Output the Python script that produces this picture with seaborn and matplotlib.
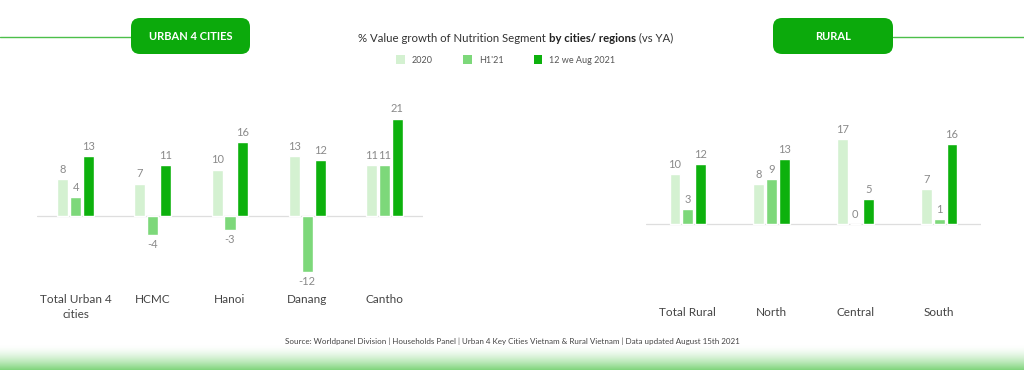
import numpy as np
import pandas as pd
import matplotlib
matplotlib.use("Agg")
import matplotlib.pyplot as plt
import seaborn as sns
from matplotlib.patches import FancyBboxPatch, Patch
from matplotlib.lines import Line2D
from matplotlib.transforms import IdentityTransform

# data
periods = ["2020", "H1'21", "12 we Aug 2021"]
urban_cities = ["Total Urban 4\ncities", "HCMC", "Hanoi", "Danang", "Cantho"]
urban_2020 = [8, 7, 10, 13, 11]
urban_h121 = [4, -4, -3, -12, 11]
urban_12we = [13, 11, 16, 12, 21]
rural_regions = ["Total Rural", "North", "Central", "South"]
rural_2020 = [10, 8, 17, 7]
rural_h121 = [3, 9, 0, 1]
rural_12we = [12, 13, 5, 16]

colors = ["#d4f1d1", "#7dd87a", "#0db10d"]
box_green = "#0caa0c"
grey = "#8a8a8a"


def long_df(cats, a, b, c):
    rows = []
    for vals, p in zip([a, b, c], periods):
        for cat, v in zip(cats, vals):
            rows.append({"cat": cat, "period": p, "value": v})
    return pd.DataFrame(rows)


urban_df = long_df(urban_cities, urban_2020, urban_h121, urban_12we)
rural_df = long_df(rural_regions, rural_2020, rural_h121, rural_12we)

sns.set_style("white")
plt.rcParams["font.family"] = ["Lato", "DejaVu Sans"]

W, H = 1024, 370
fig = plt.figure(figsize=(W / 100, H / 100), dpi=100)


def px_axes(x0, x1, top, bottom):
    return fig.add_axes([x0 / W, 1 - bottom / H, (x1 - x0) / W, (bottom - top) / H])


def draw_panel(ax, df, cats, ylim, width, gap):
    sns.barplot(data=df, x="cat", y="value", hue="period", order=cats,
                hue_order=periods, palette=colors, width=width, gap=gap,
                saturation=1, legend=False, ax=ax)
    for cont in ax.containers:
        labels = [str(int(b.get_height())) for b in cont]
        ax.bar_label(cont, labels=labels, padding=3, fontsize=8, color=grey)
    ax.axhline(0, color="#dedede", lw=0.9, zorder=0)
    ax.set_xlim(-0.5, len(cats) - 0.5)
    ax.set_ylim(*ylim)
    ax.set_xlabel("")
    ax.set_ylabel("")
    ax.set_yticks([])
    ax.tick_params(axis="x", length=0, pad=8, labelsize=8.5, labelcolor="#444444")
    sns.despine(ax=ax, left=True, bottom=True)
    for lab in ax.get_xticklabels():
        lab.set_linespacing(1.4)


# urban panel: zero line at y=216 px, 4.64 px per unit
ax1 = px_axes(37, 423, 216 - 22 * 4.64, 216 + 14.4 * 4.64)
draw_panel(ax1, urban_df, urban_cities, (-14.4, 22), 0.5, 0.14)

# rural panel: zero line at y=224 px, 5 px per unit
ax2 = px_axes(646, 981, 224 - 19 * 5.0, 224 + 14.4 * 5.0)
draw_panel(ax2, rural_df, rural_regions, (-14.4, 19), 0.46, 0.16)

# header boxes and lines
line_green = "#4cbf4a"
fig.add_artist(Line2D([0, 131 / W], [1 - 37 / H] * 2, color=line_green, lw=1, zorder=1))
fig.add_artist(Line2D([893 / W, 1], [1 - 37 / H] * 2, color=line_green, lw=1, zorder=1))
for x0, x1, label in [(131, 250, "URBAN 4 CITIES"), (773, 893, "RURAL")]:
    box = FancyBboxPatch((x0, H - 54), x1 - x0, 36,
                         boxstyle="round,pad=0,rounding_size=9",
                         transform=IdentityTransform(), facecolor=box_green,
                         edgecolor="none", zorder=2)
    fig.add_artist(box)
    fig.text((x0 + x1) / 2 / W, 1 - 36 / H, label, ha="center", va="center",
             color="white", fontsize=8, fontweight="bold", zorder=3)

# title with a bold middle part
t1 = fig.text(358 / W, 1 - 38 / H, "% Value growth of Nutrition Segment ",
              ha="left", va="center", fontsize=8.2, color="#333333")
fig.canvas.draw()
bb1 = t1.get_window_extent()
t2 = fig.text(bb1.x1, bb1.y0, "by cities/ regions", fontsize=8.2, fontweight="bold",
              color="#222222", va="bottom", transform=IdentityTransform())
fig.canvas.draw()
bb2 = t2.get_window_extent()
t3 = fig.text(bb2.x1, bb1.y0, " (vs YA)", fontsize=8.2, color="#333333",
              va="bottom", transform=IdentityTransform())

# legend
handles = [Patch(facecolor=c, edgecolor="none", label=p) for c, p in zip(colors, periods)]
fig.legend(handles=handles, loc="center", bbox_to_anchor=(506 / W, 1 - 60 / H),
           ncol=3, frameon=False, fontsize=6.5, labelcolor="#555555",
           handlelength=0.9, handleheight=1.2, handletextpad=0.8,
           columnspacing=3.4)

# source
fig.text(512 / W, 1 - 341 / H,
         "Source: Worldpanel Division | Households Panel | Urban 4 Key Cities Vietnam & "
         "Rural Vietnam | Data updated August 15th 2021",
         ha="center", va="center", fontsize=5.8, color="#444444")

# green gradient at the bottom
gax = fig.add_axes([0, 0, 1, 25 / H])
grad = np.linspace(0, 1, 50) ** 1.6
top_rgb = np.array([1.0, 1.0, 1.0])
bot_rgb = np.array(matplotlib.colors.to_rgb("#80d57c"))
img = top_rgb[None, :] * (1 - grad[:, None]) + bot_rgb[None, :] * grad[:, None]
gax.imshow(img[:, None, :], aspect="auto", extent=[0, 1, 0, 1])
gax.set_axis_off()

fig.savefig("out.png", dpi=100)
